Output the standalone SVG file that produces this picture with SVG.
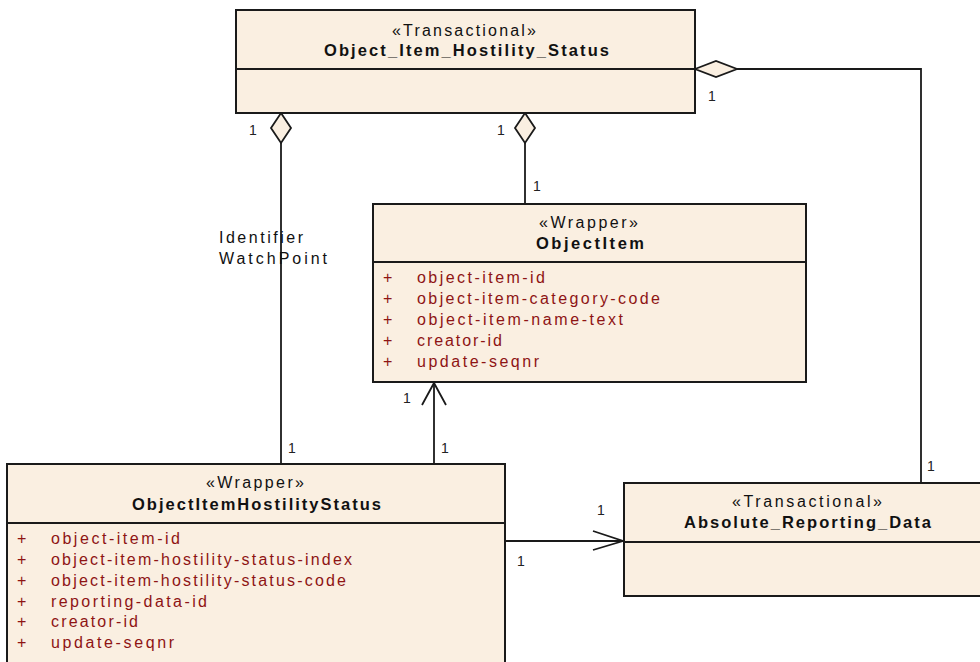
<svg xmlns="http://www.w3.org/2000/svg" width="980" height="662" viewBox="0 0 980 662">
<style>
.box{fill:#FAEFE1;stroke:#1a1a1a;stroke-width:2}
.div{stroke:#1a1a1a;stroke-width:2}
.st{font-family:"Liberation Sans",Arial,sans-serif;font-size:16px;fill:#111}
.nm{font-family:"Liberation Sans",Arial,sans-serif;font-size:16.5px;font-weight:bold;fill:#111}
.at{font-family:"Liberation Sans",Arial,sans-serif;font-size:16px;fill:#8E1414}
.ml{font-family:"Liberation Sans",Arial,sans-serif;font-size:14px;fill:#222}
.ln{fill:none;stroke:#1a1a1a;stroke-width:1.8}
.dm{fill:#FAEFE1;stroke:#1a1a1a;stroke-width:1.8}
</style>
<rect width="980" height="662" fill="#fff"/>
<g id="connectors">
  <g id="c1">
    <line class="ln" x1="281" y1="143" x2="281" y2="464"/>
    <polygon class="dm" points="281,113 291,128 281,143 271,128"/>
    <text class="ml" x="249" y="135">1</text>
    <text class="ml" x="288" y="453">1</text>
    <text class="st" x="219" y="243" textLength="84" lengthAdjust="spacing">Identifier</text>
    <text class="st" x="219" y="264" textLength="108" lengthAdjust="spacing">WatchPoint</text>
  </g>
  <g id="c2">
    <line class="ln" x1="525" y1="143" x2="525" y2="204"/>
    <polygon class="dm" points="525,113 535,128 525,143 515,128"/>
    <text class="ml" x="497" y="135">1</text>
    <text class="ml" x="533" y="191">1</text>
  </g>
  <g id="c3">
    <polyline class="ln" points="737,69 921,69 921,483"/>
    <polygon class="dm" points="695,69 716,61 737,69 716,77"/>
    <text class="ml" x="708" y="101">1</text>
    <text class="ml" x="927" y="471">1</text>
  </g>
  <g id="c4">
    <line class="ln" x1="434" y1="464" x2="434" y2="383"/>
    <polyline class="ln" points="422,405 434,383 446,405"/>
    <text class="ml" x="403" y="403">1</text>
    <text class="ml" x="441" y="453">1</text>
  </g>
  <g id="c5">
    <line class="ln" x1="505" y1="541" x2="623" y2="541"/>
    <polyline class="ln" points="593,531 623,541 593,550"/>
    <text class="ml" x="597" y="515">1</text>
    <text class="ml" x="517" y="566">1</text>
  </g>
</g>
<g id="Object_Item_Hostility_Status">
  <rect class="box" x="236" y="10" width="459" height="103"/>
  <line class="div" x1="236" y1="69" x2="695" y2="69"/>
  <text class="st" x="392" y="36" textLength="144" lengthAdjust="spacing">«Transactional»</text>
  <text class="nm" x="324" y="56" textLength="285" lengthAdjust="spacing">Object_Item_Hostility_Status</text>
</g>
<g id="ObjectItem">
  <rect class="box" x="373" y="204" width="433" height="178"/>
  <line class="div" x1="373" y1="262" x2="806" y2="262"/>
  <text class="st" x="539" y="228" textLength="99" lengthAdjust="spacing">«Wrapper»</text>
  <text class="nm" x="536" y="249" textLength="108" lengthAdjust="spacing">ObjectItem</text>
  <text class="at" x="383" y="283">+</text><text class="at" x="417" y="283" textLength="128" lengthAdjust="spacing">object-item-id</text>
  <text class="at" x="383" y="304">+</text><text class="at" x="417" y="304" textLength="243" lengthAdjust="spacing">object-item-category-code</text>
  <text class="at" x="383" y="325">+</text><text class="at" x="417" y="325" textLength="206" lengthAdjust="spacing">object-item-name-text</text>
  <text class="at" x="383" y="346">+</text><text class="at" x="417" y="346" textLength="85" lengthAdjust="spacing">creator-id</text>
  <text class="at" x="383" y="367">+</text><text class="at" x="417" y="367" textLength="122" lengthAdjust="spacing">update-seqnr</text>
</g>
<g id="ObjectItemHostilityStatus">
  <rect class="box" x="7" y="464" width="498" height="220"/>
  <line class="div" x1="7" y1="523" x2="505" y2="523"/>
  <text class="st" x="206" y="488" textLength="98" lengthAdjust="spacing">«Wrapper»</text>
  <text class="nm" x="132" y="510" textLength="249" lengthAdjust="spacing">ObjectItemHostilityStatus</text>
  <text class="at" x="17" y="544">+</text><text class="at" x="51" y="544" textLength="129" lengthAdjust="spacing">object-item-id</text>
  <text class="at" x="17" y="565">+</text><text class="at" x="51" y="565" textLength="301" lengthAdjust="spacing">object-item-hostility-status-index</text>
  <text class="at" x="17" y="586">+</text><text class="at" x="51" y="586" textLength="295" lengthAdjust="spacing">object-item-hostility-status-code</text>
  <text class="at" x="17" y="607">+</text><text class="at" x="51" y="607" textLength="156" lengthAdjust="spacing">reporting-data-id</text>
  <text class="at" x="17" y="627">+</text><text class="at" x="51" y="627" textLength="87" lengthAdjust="spacing">creator-id</text>
  <text class="at" x="17" y="648">+</text><text class="at" x="51" y="648" textLength="123" lengthAdjust="spacing">update-seqnr</text>
</g>
<g id="Absolute_Reporting_Data">
  <rect class="box" x="624" y="483" width="370" height="113"/>
  <line class="div" x1="624" y1="542" x2="994" y2="542"/>
  <text class="st" x="732" y="507" textLength="150" lengthAdjust="spacing">«Transactional»</text>
  <text class="nm" x="684" y="528" textLength="247" lengthAdjust="spacing">Absolute_Reporting_Data</text>
</g>
</svg>
